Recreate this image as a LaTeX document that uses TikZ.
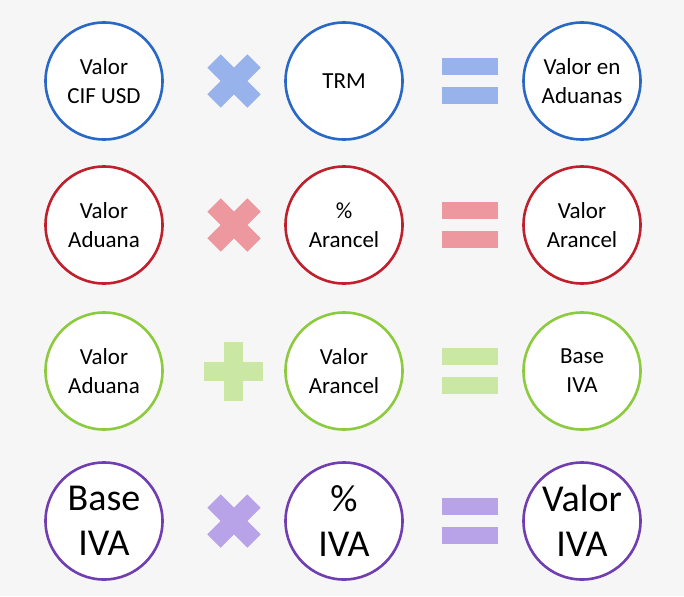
\documentclass[tikz,border=0pt]{standalone}
\usepackage{fontspec}
\setmainfont{Carlito}

\definecolor{paper}{RGB}{246,246,247}
\definecolor{bluering}{RGB}{42,104,198}
\definecolor{blueop}{RGB}{152,178,236}
\definecolor{redring}{RGB}{192,32,44}
\definecolor{redop}{RGB}{236,152,158}
\definecolor{greenring}{RGB}{140,202,62}
\definecolor{greenop}{RGB}{202,232,164}
\definecolor{violetring}{RGB}{112,62,176}
\definecolor{violetop}{RGB}{184,162,232}

\tikzset{
  ring/.style={circle, draw=#1, line width=2.6pt, fill=white,
    minimum size=117pt, inner sep=0pt, align=center,
    font=\fontsize{23}{29}\selectfont},
  bigring/.style={ring=#1, font=\fontsize{38}{45}\selectfont},
  timesbar/.style={draw=#1, line width=19pt},
}

\begin{document}
\begin{tikzpicture}[x=1pt, y=-1pt]
        \fill[paper] (0,0) rectangle (684,596);
        % first row
        \node[ring=bluering] (cif) at (104,81) {Valor\\CIF USD};
        \node[ring=bluering] (trm) at (344,81) {TRM};
        \node[ring=bluering] (aduanas) at (582,81) {Valor en\\Aduanas};
        % second row
        \node[ring=redring] (aduana) at (104,225) {Valor\\Aduana};
        \node[ring=redring] (arancel) at (344,225) {\%\\Arancel};
        \node[ring=redring] (valarancel) at (582,225) {Valor\\Arancel};
        % third row
        \node[ring=greenring] (aduanab) at (104,371) {Valor\\Aduana};
        \node[ring=greenring] (arancelb) at (344,371) {Valor\\Arancel};
        \node[ring=greenring] (base) at (582,371) {Base\\IVA};
        % fourth row
        \node[bigring=violetring] (baseiva) at (104,521) {Base\\IVA};
        \node[bigring=violetring] (iva) at (344,521) {\%\\IVA};
        \node[bigring=violetring] (valiva) at (582,521) {Valor\\IVA};
        % times signs
        \foreach \y/\c in {81/blueop, 225/redop, 521/violetop} {
            \draw[timesbar=\c] (214,\y-20) -- (254,\y+20);
            \draw[timesbar=\c] (214,\y+20) -- (254,\y-20);
        }
        % plus sign
        \fill[greenop] (204,362) rectangle (263,381);
        \fill[greenop] (224,342) rectangle (243,401);
        % equals signs
        \foreach \y/\c in {81/blueop, 225/redop, 371/greenop, 521/violetop} {
            \fill[\c] (442,\y-23) rectangle (498,\y-6);
            \fill[\c] (442,\y+6) rectangle (498,\y+23);
        }
\end{tikzpicture}
\end{document}
